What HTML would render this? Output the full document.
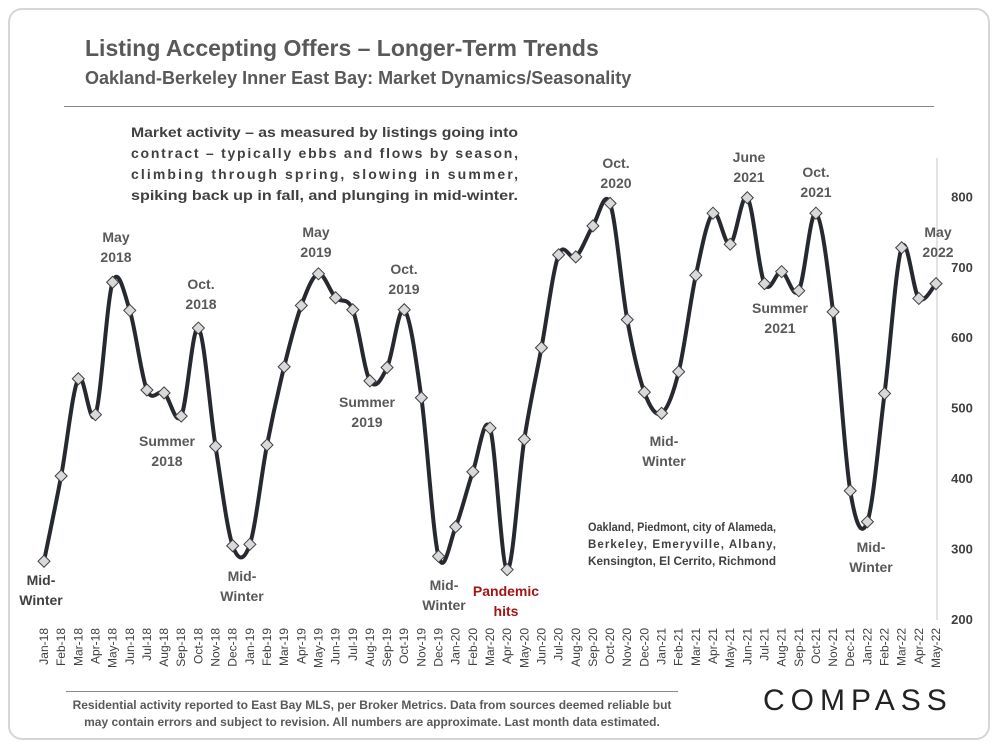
<!DOCTYPE html>
<html><head><meta charset="utf-8"><style>
body{margin:0;width:1000px;height:750px;background:#fff;font-family:"Liberation Sans",sans-serif;overflow:hidden}
#frame{position:absolute;left:8px;top:8px;width:982px;height:732px;border:2px solid #d6d6d6;border-radius:14px;box-sizing:border-box}
.t{position:absolute;color:#595959;font-weight:bold}
</style></head><body>
<div id="frame"></div>
<div class="t" style="left:85px;top:35px;font-size:23px">Listing Accepting Offers – Longer-Term Trends</div>
<div class="t" style="left:85px;top:68px;font-size:18px">Oakland-Berkeley Inner East Bay: Market Dynamics/Seasonality</div>
<div style="position:absolute;left:64px;top:106px;width:870px;height:1px;background:#888"></div>
<div style="position:absolute;left:66px;top:691px;width:612px;height:1px;background:#888"></div>
<div style="position:absolute;left:66px;top:697px;width:612px;font-size:12px;font-weight:bold;color:#595959;text-align:center;line-height:17px">Residential activity reported to East Bay MLS, per Broker Metrics. Data from sources deemed reliable but may contain errors and subject to revision. All numbers are approximate. Last month data estimated.</div>
<div style="position:absolute;left:763px;top:684px;font-size:30px;letter-spacing:6px;color:#222">COMPASS</div>
<svg id="c" width="1000" height="750" style="position:absolute;left:0;top:0" xmlns="http://www.w3.org/2000/svg">
<g font-size="14" font-weight="bold" fill="#404040">
<text x="131" y="137" textLength="387" lengthAdjust="spacingAndGlyphs">Market activity – as measured by listings going into</text>
<text x="131" y="158" textLength="387" lengthAdjust="spacing">contract – typically ebbs and flows by season,</text>
<text x="131" y="179" textLength="387" lengthAdjust="spacing">climbing through spring, slowing in summer,</text>
<text x="131" y="200" textLength="387" lengthAdjust="spacingAndGlyphs">spiking back up in fall, and plunging in mid-winter.</text>
</g>
<g font-size="11.5" font-weight="bold" fill="#404040">
<text x="588" y="531" textLength="188" lengthAdjust="spacingAndGlyphs">Oakland, Piedmont, city of Alameda,</text>
<text x="588" y="548" textLength="188" lengthAdjust="spacing">Berkeley, Emeryville, Albany,</text>
<text x="588" y="565" textLength="188" lengthAdjust="spacingAndGlyphs">Kensington, El Cerrito, Richmond</text>
</g>
</svg>
<script>
const months=["Jan-18","Feb-18","Mar-18","Apr-18","May-18","Jun-18","Jul-18","Aug-18","Sep-18","Oct-18","Nov-18","Dec-18","Jan-19","Feb-19","Mar-19","Apr-19","May-19","Jun-19","Jul-19","Aug-19","Sep-19","Oct-19","Nov-19","Dec-19","Jan-20","Feb-20","Mar-20","Apr-20","May-20","Jun-20","Jul-20","Aug-20","Sep-20","Oct-20","Nov-20","Dec-20","Jan-21","Feb-21","Mar-21","Apr-21","May-21","Jun-21","Jul-21","Aug-21","Sep-21","Oct-21","Nov-21","Dec-21","Jan-22","Feb-22","Mar-22","Apr-22","May-22"];
const values=[282,403,541,490,678,638,525,521,488,613,445,304,306,447,558,645,690,656,639,538,557,639,514,289,331,409,471,270,455,585,717,714,758,790,625,522,492,551,688,776,732,798,676,693,666,776,636,382,338,520,727,655,676];
const yTicks=[200,300,400,500,600,700,800];
const labels=[
["Mid-","Winter",0,"#404040",41,585],["May","2018",4,"#595959",116,242],["Summer","2018",8,"#595959",167,446],["Oct.","2018",9,"#595959",201,289],
["Mid-","Winter",11,"#595959",242,581],["May","2019",16,"#595959",316,237],["Summer","2019",19,"#595959",367,407],["Oct.","2019",21,"#595959",404,274],
["Mid-","Winter",23,"#595959",444,590],["Pandemic","hits",27,"#a31515",506,596],["Oct.","2020",33,"#595959",616,168],["Mid-","Winter",36,"#595959",664,446],
["June","2021",41,"#595959",749,162],["Summer","2021",42,"#595959",780,313],["Oct.","2021",45,"#595959",816,177],["Mid-","Winter",47,"#595959",871,552],["May","2022",51,"#595959",938,237]];
const svg=document.getElementById('c');const NS="http://www.w3.org/2000/svg";
const x0=44,dx=(936-44)/(months.length-1);
const X=i=>x0+i*dx, Y=v=>619-(v-200)*0.7045;
function el(t,a){const e=document.createElementNS(NS,t);for(const k in a)e.setAttribute(k,a[k]);svg.appendChild(e);return e;}
const ax=el('line',{x1:937,y1:158,x2:937,y2:620,stroke:'#d9d9d9','stroke-width':1.5});


yTicks.forEach(v=>{const t=el('text',{x:962,y:Y(v)+5,'text-anchor':'middle','font-size':13,'font-weight':'bold',fill:'#404040'});t.textContent=v;

});
months.forEach((m,i)=>{const t=el('text',{transform:`translate(${X(i)+4},628) rotate(-90)`,'text-anchor':'end','font-size':12,fill:'#404040'});t.textContent=m;

});
const P=values.map((v,i)=>[X(i),Y(v)]);
let d=`M${P[0][0]},${P[0][1]}`;
for(let i=0;i<P.length-1;i++){const p0=P[Math.max(0,i-1)],p1=P[i],p2=P[i+1],p3=P[Math.min(P.length-1,i+2)];
d+=` C${p1[0]+(p2[0]-p0[0])/6},${p1[1]+(p2[1]-p0[1])/6} ${p2[0]-(p3[0]-p1[0])/6},${p2[1]-(p3[1]-p1[1])/6} ${p2[0]},${p2[1]}`;}
const line=el('path',{d,fill:'none',stroke:'#262a30','stroke-width':4});


P.forEach(p=>{const m=el('polygon',{points:`${p[0]},${p[1]-6} ${p[0]+6},${p[1]} ${p[0]},${p[1]+6} ${p[0]-6},${p[1]}`,fill:'#d9d9d9',stroke:'#404040','stroke-width':1});

});
labels.forEach(l=>{const t=el('text',{x:l[4],y:l[5],'text-anchor':'middle','font-size':14,'font-weight':'bold',fill:l[3]});
const a=document.createElementNS(NS,'tspan');a.setAttribute('x',l[4]);a.textContent=l[0];t.appendChild(a);
const b=document.createElementNS(NS,'tspan');b.setAttribute('x',l[4]);b.setAttribute('dy',20);b.textContent=l[1];t.appendChild(b);

});
</script>
</body></html>
